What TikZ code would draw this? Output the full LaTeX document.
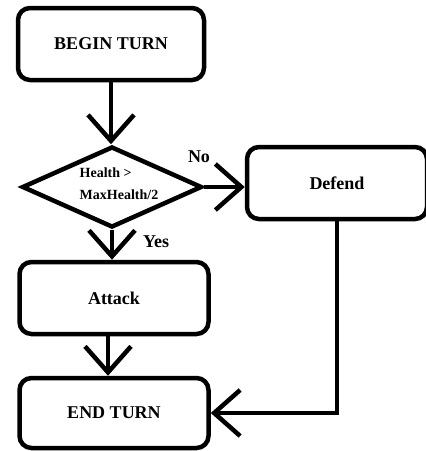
\documentclass[tikz,border=0pt]{standalone}
\usepackage{fontspec}
\setmainfont{Liberation Serif}
\usetikzlibrary{arrows.meta,positioning,shapes.geometric}

\begin{document}
\begin{tikzpicture}[x=1pt,y=-1pt,line width=4.5pt,
    box/.style={draw,rounded corners=12pt,minimum width=186pt,minimum height=72pt,
      font=\bfseries\fontsize{18}{20}\selectfont},
    decision/.style={draw,diamond,minimum width=180pt,minimum height=81pt,inner sep=0pt},
    condtext/.style={align=left,inner sep=0pt,font=\bfseries\fontsize{14}{22}\selectfont},
    flow/.style={-{Straight Barb[length=26pt,width=46pt]}},
    lbl/.style={font=\bfseries\fontsize{18}{20}\selectfont}]
  \clip (0,0) rectangle (426,451);
  % boxes
  \node[box] (begin) at (111,44) {BEGIN TURN};
  \node[decision] (cond) at (112,187) {};
  \node[condtext] (condtxt) at (119,184) {Health >\\MaxHealth/2};
  \node[box,minimum width=180pt] (defend) at (337,183) {Defend};
  \node[box,minimum width=189pt] (attack) at (114,298) {Attack};
  \node[box,minimum width=189pt,minimum height=70pt] (end) at (114,413) {END TURN};
  % branch labels
  \node[lbl] (no) at (199,157) {No};
  \node[lbl] (yes) at (156,242) {Yes};
  % arrows
  \draw[flow] (begin.south) -- (begin.south |- cond.north);
  \draw[flow] (cond.east) -- (cond.east -| defend.west);
  \draw[flow] (cond.south) -- (cond.south |- attack.north);
  \draw[flow] ([xshift=-6pt]attack.south) -- ([xshift=-6pt]end.north);
  \draw[flow] (defend.south) |- (end.east);
\end{tikzpicture}
\end{document}
